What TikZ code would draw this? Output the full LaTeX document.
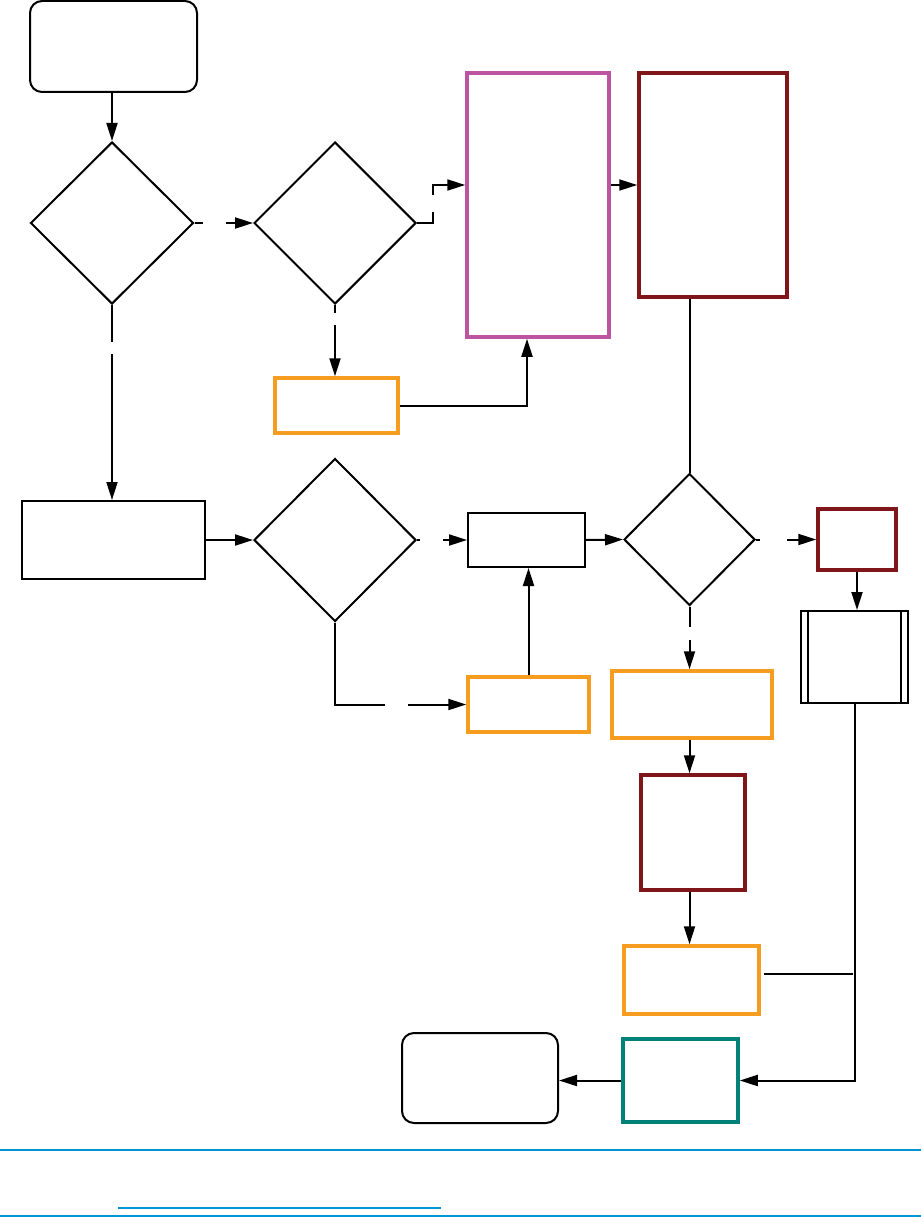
\documentclass[tikz,border=0pt]{standalone}
\usetikzlibrary{shapes.geometric,arrows.meta}

\definecolor{steporange}{RGB}{246,157,32}
\definecolor{steppurple}{RGB}{188,84,162}
\definecolor{stepred}{RGB}{128,22,26}
\definecolor{stepteal}{RGB}{0,130,122}
\definecolor{footblue}{RGB}{0,150,214}

\tikzset{
    plainbox/.style={draw, rectangle, line width=2pt, inner sep=0pt},
    colorbox/.style={draw=#1, rectangle, line width=3.5pt, inner sep=0pt},
    termbox/.style={draw, rectangle, rounded corners=12pt, line width=2pt, inner sep=0pt},
    decide/.style={draw, diamond, line width=2pt, inner sep=0pt},
    arr/.style={line width=2pt, -{Triangle[length=18pt,width=11pt]}},
    link/.style={line width=2pt},
    hgap/.style={fill=white, inner sep=0pt, minimum width=#1, minimum height=6pt},
    vgap/.style={fill=white, inner sep=0pt, minimum width=6pt, minimum height=#1}
}

\begin{document}
\begin{tikzpicture}[x=1pt, y=-1pt]

    % --- Page frame ---
    \useasboundingbox (0, 0) rectangle (921, 1217);

    % --- Left column ---
    % Start terminal
    \node[termbox, minimum width=167pt, minimum height=91pt] (start) at (113.5, 46.5) {};
    % First decision
    \node[decide, minimum width=163pt, minimum height=162pt] (dfirst) at (112, 223) {};
    % Process box under the first decision
    \node[plainbox, minimum width=183pt, minimum height=78pt] (proca) at (113.5, 540) {};

    % --- Second column ---
    % Second decision
    \node[decide, minimum width=162pt, minimum height=162pt] (dsecond) at (335, 223) {};
    % Orange box under the second decision
    \node[colorbox=steporange, minimum width=123pt, minimum height=55pt] (oranga) at (336.5, 405.5) {};
    % Third decision
    \node[decide, minimum width=162pt, minimum height=163pt] (dthird) at (335, 540) {};

    % --- Third column ---
    % Tall purple box
    \node[colorbox=steppurple, minimum width=142pt, minimum height=264pt] (purple) at (538, 205) {};
    % Small process box
    \node[plainbox, minimum width=117pt, minimum height=54pt] (procb) at (526.5, 540) {};
    % Orange box under the small process box
    \node[colorbox=steporange, minimum width=121pt, minimum height=55pt] (orangb) at (528.5, 704.5) {};

    % --- Fourth column ---
    % Tall dark red box
    \node[colorbox=stepred, minimum width=148pt, minimum height=224pt] (reda) at (713, 185) {};
    % Fourth decision
    \node[decide, minimum width=131pt, minimum height=132pt] (dfourth) at (689.5, 539.5) {};
    % Wide orange box under the fourth decision
    \node[colorbox=steporange, minimum width=160pt, minimum height=67pt] (orangc) at (692, 704.5) {};
    % Dark red box in the lower chain
    \node[colorbox=stepred, minimum width=104pt, minimum height=115pt] (redc) at (693, 832.5) {};
    % Last orange box
    \node[colorbox=steporange, minimum width=135pt, minimum height=68pt] (orangd) at (691.5, 980) {};
    % Teal box
    \node[colorbox=stepteal, minimum width=115pt, minimum height=83pt] (teal) at (680.5, 1080.5) {};
    % End terminal
    \node[termbox, minimum width=156pt, minimum height=90pt] (finish) at (480, 1078) {};

    % --- Right column ---
    % Small dark red box
    \node[colorbox=stepred, minimum width=78pt, minimum height=61pt] (redb) at (857, 539.5) {};
    % Predefined process box
    \node[plainbox, minimum width=107pt, minimum height=92pt] (subproc) at (854.5, 657) {};
    \draw[link] ([xshift=8pt]subproc.north west) -- ([xshift=8pt]subproc.south west);
    \draw[link] ([xshift=-8pt]subproc.north east) -- ([xshift=-8pt]subproc.south east);
    \coordinate (joint) at (854.5, 974);

    % --- Connectors ---
    \draw[arr] (dfirst.north |- start.south) -- (dfirst.north);
    \draw[arr] (dfirst.east) -- node[hgap=23pt, pos=0.34] {} (dsecond.west);
    \draw[arr] (dfirst.south) -- node[vgap=12pt, pos=0.22] {} (dfirst.south |- proca.north);
    \draw[arr] (dsecond.east) -- ++(16, 0) |- node[vgap=17pt, pos=0.26] {} (purple.west |- reda.west);
    \draw[arr] (dsecond.south) -- node[vgap=12pt, pos=0.2] {} (dsecond.south |- oranga.north);
    \draw[arr] (oranga.east) -| ([xshift=-11pt]purple.south);
    \draw[arr] (purple.east |- reda.west) -- (reda.west);
    \draw[link] (dfourth.north |- reda.south) -- (dfourth.north);
    \draw[arr] (proca.east) -- (dthird.west);
    \draw[arr] (dthird.east) -- node[hgap=23pt, pos=0.29] {} (procb.west);
    \draw[arr] (dthird.south) |- node[hgap=23pt, pos=0.735] {} (orangb.west);
    \draw[arr] (orangb.north) -- (orangb.north |- procb.south);
    \draw[arr] (procb.east) -- (dfourth.west);
    \draw[arr] (dfourth.east) -- node[hgap=27pt, pos=0.29] {} (redb.west);
    \draw[arr] (redb.south) -- (redb.south |- subproc.north);
    \draw[arr] (dfourth.south) -- node[vgap=13pt, pos=0.43] {} (dfourth.south |- orangc.north);
    \draw[arr] (dfourth.south |- orangc.south) -- (dfourth.south |- redc.north);
    \draw[arr] (dfourth.south |- redc.south) -- (dfourth.south |- orangd.north);
    \draw[link] ([xshift=3pt]orangd.east |- joint) -- ([xshift=-2pt]joint);
    \draw[arr] (subproc.south) |- (teal.east);
    \draw[arr] (teal.west) -- (teal.west -| finish.east);

    % --- Footer rules ---
    \draw[footblue, line width=1.2pt] (0, 1150) -- (921, 1150);
    \draw[footblue, line width=2pt] (118, 1208) -- (441, 1208);
    \draw[footblue, line width=1.2pt] (0, 1216) -- (921, 1216);

\end{tikzpicture}
\end{document}
